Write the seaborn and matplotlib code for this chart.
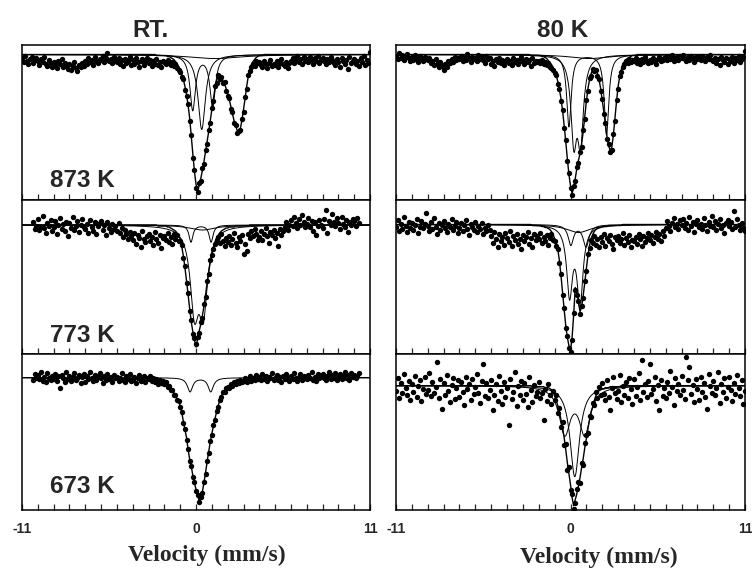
import numpy as np
import pandas as pd
import matplotlib
matplotlib.use("Agg")
import matplotlib.pyplot as plt
import seaborn as sns

sns.set_style("ticks", {"axes.edgecolor": "black"})
plt.rcParams["font.family"] = ["Liberation Sans", "DejaVu Sans"]

# === Velocity channels (mm/s) === #
vel_wide = np.round(np.arange(-11.0, 11.05, 0.1), 1)     # 221 channels
vel_narrow = np.round(np.arange(-10.3, 10.35, 0.1), 1)   # 207 channels
vel_fit = np.round(np.arange(-3.0, 5.05, 0.1), 1)        # 81 points of fitted envelope

# === Measured absorption, arb. units (0 = baseline, larger = deeper) === #
rt_873_abs = [3, 7, 1, 6, 9, 4, 2, 8, 5, 3,
              6, 10, 4, 7, 2, 9, 11, 5, 8, 12,
              7, 10, 13, 6, 9, 4, 12, 8, 11, 14,
              9, 15, 11, 7, 13, 16, 10, 12, 8, 11,
              6, 9, 3, 7, 5, 10, 2, 6, 8, 4,
              5, 1, 7, 3, -2, 6, 4, 8, 2, 5,
              7, 3, 9, 5, 11, 4, 8, 6, 2, 10,
              5, 9, 3, 7, 12, 6, 4, 10, 7, 3,
              8, 5, 11, 6, 9, 4, 10, 7, 12, 6,
              7, 9, 5, 8, 10, 7, 11, 9, 13, 15,
              17, 22, 24, 35, 41, 49, 66, 80, 103, 115,
              133, 137, 128, 126, 113, 109, 95, 89, 75, 68,
              53, 46, 31, 28, 20, 24, 22, 28, 27, 36,
              41, 43, 54, 57, 68, 70, 78, 76, 75, 64,
              57, 42, 34, 20, 16, 12, 9, 11, 6, 8,
              7, 10, 12, 6, 9, 13, 8, 5, 11, 9,
              10, 6, 12, 8, 4, 9, 11, 7, 13, 8,
              6, 3, 8, 5, 1, 7, 4, 9, 2, 6,
              4, 7, 2, 5, 9, 3, 6, 1, 8, 5,
              3, 6, 9, 4, 7, 2, 5, 8, 10, 4,
              7, 12, 3, 6, 9, 5, 14, 2, 8, 6,
              4, 9, 6, 11, 3, 7, 1, 10, 5, 8,
              -3]

lt_873_abs = [1, 4, -2, 3, 0, 5, 2, -1, 3, 6,
              2, 5, 0, 4, 7, 1, 3, 6, 2, 4,
              5, 3, 8, 6, 10, 4, 9, 12, 7, 11,
              15, 9, 12, 6, 8, 4, 7, 2, 5, 3,
              4, 1, 6, 2, 5, -1, 3, 7, 2, 4,
              3, 6, 0, 4, 2, 5, 8, 1, 4, 3,
              9, 6, 11, 4, 7, 3, 8, 5, 10, 6,
              4, 8, 6, 10, 3, 7, 5, 9, 6, 2,
              6, 9, 4, 7, 5, 11, 3, 8, 6, 7,
              6, 8, 5, 9, 7, 10, 8, 12, 13, 15,
              18, 20, 29, 34, 46, 55, 73, 85, 106, 118,
              133, 140, 131, 126, 112, 108, 97, 92, 75, 64,
              45, 36, 23, 21, 14, 16, 15, 21, 24, 36,
              44, 59, 68, 84, 89, 97, 95, 79, 66, 45,
              34, 21, 17, 12, 9, 6, 8, 4, 7, 5,
              6, 3, 8, 5, 9, 4, 7, 2, 6, 8,
              5, 7, 3, 6, 9, 4, 2, 6, 5, 3,
              2, 5, 1, 4, 0, 6, 3, 2, 5, 1,
              3, 0, 4, 6, 2, 5, 1, 3, 7, 2,
              4, 2, 5, 1, 3, 6, 2, 4, 0, 5,
              6, 3, 8, 4, 10, 2, 5, 7, 3, 9,
              4, 6, 2, 8, 3, 5, 1, 7, 4, 2,
              -4]

rt_773_abs = [-3, 4, 1,
              -6, 5, 2, -9, 3, 8, -2, 1, -5, 6,
              2, -4, 9, 0, -7, 4, -1, 6, -3, 11,
              -2, 3, -8, 5, 1, -4, 7, 0, -6, 2,
              4, -1, 8, -5, 2, 6, -3, 9, 1, -2,
              -4, 5, 0, 10, -3, 3, 7, -1, 4, 1,
              6, -2, 8, 3, 12, 5, 9, 14, 7, 11,
              15, 8, 19, 10, 13, 22, 6, 14, 17, 11,
              9, 16, 12, 20, 7, 14, 18, 10, 23, 13,
              11, 15, 8, 17, 12, 19, 9, 14, 10, 16,
              16, 20, 33, 41, 58, 68, 86, 95, 109, 113,
              119, 112, 108, 97, 93, 79, 72, 56, 49, 35,
              30, 24, 19, 15, 12, 18, 9, 16, 21, 13,
              17, 11, 20, 14, 8, 18, 22, 12, 16, 10,
              29, 19, 26, 9, 13, 6, 11, 4, 9, 15,
              12, 6, 15, 9, 3, 11, 18, 7, 10, 5,
              13, 8, 21, 4, 10, 6, 2, -3, 5, 0,
              -5, 1, -8, -2, 3, -6, 0, -10, -3, 2,
              -1, -7, 2, -4, 6, -3, 10, 1, -5, 0,
              3, -6, -15, 8, -4, 0, -11, -3, 1, -7,
              -2, 4, -8, -1, 2, -5, 7, -3, 0, -6,
              -4, 1, -7, -2]

lt_773_abs = [2, -5, 6, -1, 4, -8, 1, 7, -3, 3,
              -2, 5, 0, -6, 8, 2, -4, 3, -1, -12,
              1, 6, -3, 4, -7, 2, 9, -2, 5, 0,
              -4, 3, 7, -1, 2, -6, 5, 1, -3, 8,
              3, -2, 6, 0, -5, 4, 10, -1, 2, 5,
              -3, 7, 1, 4, -2, 9, 3, 6, 0, 5,
              11, 18, 7, 14, 22, 9, 16, 12, 20, 8,
              13, 17, 6, 21, 11, 15, 9, 19, 14, 24,
              10, 16, 12, 7, 19, 13, 22, 9, 15, 11,
              14, 8, 18, 12, 16, 10, 20, 13, 9, 15,
              16, 21, 24, 38, 49, 70, 83, 103, 111, 123,
              127, 115, 88, 65, 70, 76, 89, 81, 73, 56,
              46, 29, 23, 15, 18, 11, 20, 14, 22, 12,
              17, 9, 21, 13, 16, 10, 19, 24, 12, 15,
              11, 18, 14, 8, 20, 13, 17, 10, 22, 15,
              16, 12, 19, 9, 14, 21, 11, 17, 13, 8,
              15, 10, 18, 12, 7, 14, 9, 16, 6, 11,
              3, -4, 1, 6, -2, -7, 2, -1, 4, -5,
              0, -6, 3, -2, 5, -8, 1, -3, 7, -1,
              -5, 2, -1, 4, -7, 0, 6, -3, 1, -9,
              2, -4, 5, -1, -6, 3, 0, 8, -2, -5,
              1, -3, 4, -14, 2, -6, 0, 5, -2, 3,
              6]

rt_673_abs = [2, -4, 0,
              -3, 1, -6, 3, -1, 4, -5, 0, 2, -2,
              1, -4, 3, -2, 10, -3, 0, 4, -6, 1,
              -2, 3, -1, -5, 2, 0, -3, 5, -1, -4,
              4, -2, 1, -6, 0, 3, -3, 2, -1, -5,
              0, 5, -2, 2, -4, 1, -1, 4, -3, 0,
              -1, 3, 0, -5, 2, 4, -2, 1, -4, 3,
              2, -1, 5, 0, -3, 3, 1, -2, 4, 0,
              1, -2, 3, 0, 4, 1, 6, 2, 5, 3,
              6, 4, 9, 8, 12, 12, 17, 17, 22, 23,
              29, 34, 45, 51, 62, 71, 83, 88, 99, 104,
              113, 117, 124, 119, 115, 104, 96, 83, 75, 63,
              57, 47, 42, 33, 29, 22, 19, 14, 14, 10,
              9, 10, 6, 8, 4, 6, 3, 5, 2, 4,
              3, 0, 4, 1, -2, 3, 0, 2, -3, 1,
              -1, 2, -4, 1, -2, 3, -1, 0, -5, 2,
              0, -3, 2, -1, 4, -2, 1, -4, 0, 3,
              -2, 1, -5, 0, 3, -1, -4, 2, -2, 0,
              1, -3, 0, -6, 2, -1, 3, -4, 0, -2,
              -4, 0, 2, -2, -6, 1, -3, 0, -5, 2,
              -1, -4, 1, -2, -6, 0, -3, 2, -5, -1,
              -3, 0, -2, -5]

lt_673_abs = [5, -8, 12, -3, 7, -12, 2, 9, -5, 14,
              -2, 6, -10, 11, 0, -6, 15, 3, -9, 8,
              4, -13, 10, -4, 7, 1, -24, 12, -7, 23,
              -3, 9, -11, 5, 16, -1, -8, 13, 2, -6,
              11, -4, 6, 19, -9, 3, -2, 14, -7, 8,
              1, -12, 7, 17, -5, -22, 10, -3, 12, 4,
              -6, 24, 9, -2, 15, -10, 5, 18, -4, 11,
              2, 39, -7, 13, 6, -14, 20, 0, 9, -5,
              14, -3, 8, 21, -9, 4, 16, -1, 10, 6,
              -4, 12, 7, 34, 3, 15, -2, 9, 18, 5,
              14, 9, 27, 22, 41, 36, 59, 58, 84, 81,
              104, 108, 123, 117, 103, 96, 97, 77, 79, 57,
              49, 47, 30, 31, 17, 19, 6, 12, 1, 9,
              -3, 8, 14, -6, 11, 24, 2, -9, 7, 13,
              5, -11, 16, 0, 9, -4, 12, -8, 3, 18,
              -7, 10, 1, -13, 14, -26, 6, -2, 11, -5,
              -22, 8, 3, -9, 15, -1, 24, -6, 10, 2,
              12, -4, 7, -15, 1, 19, -8, 5, -2, 9,
              -10, 4, 13, -29, -6, -19, 8, -1, 16, -7,
              3, 14, -9, 6, -3, 11, 23, -12, 0, 7,
              -5, 9, 2, -14, 17, -2, 6, -8, 12, 1,
              -9, 4, 15, -3, 8, -11, 2, 10, -6, 18,
              5]

# === Fitted envelope on vel_fit (-3 ... 5 mm/s) === #
rt_873_fit = [0, 0, 0, 0, 0, 1, 1, 1, 1, 1,
              1, 1, 2, 2, 3, 4, 5, 7, 9, 12,
              16, 20, 25, 32, 40, 51, 64, 82, 100, 117,
              130, 136, 131, 124, 116, 107, 97, 87, 77, 66,
              55, 44, 33, 26, 22, 22, 24, 26, 29, 34,
              39, 45, 52, 59, 66, 71, 76, 78, 74, 66,
              55, 44, 32, 22, 15, 10, 7, 5, 3, 2,
              1, 1, 1, 0, 0, 0, 0, 0, 0, 0,
              0]
lt_873_fit = [0, 0, 0, 0, 0, 1, 1, 1, 1, 1,
              1, 1, 2, 2, 3, 4, 6, 8, 10, 13,
              17, 21, 27, 35, 44, 56, 71, 87, 104, 120,
              131, 139, 133, 124, 114, 106, 99, 90, 77, 62,
              47, 34, 25, 19, 15, 14, 16, 19, 25, 34,
              46, 57, 70, 82, 91, 96, 93, 81, 64, 47,
              32, 22, 15, 10, 7, 5, 4, 3, 2, 1,
              1, 1, 0, 0, 0, 0, 0, 0, 0, 0,
              0]
rt_773_fit = [0, 0, 0, 0, 0, 0, 1, 1, 1, 1,
              1, 1, 2, 2, 3, 4, 5, 6, 8, 11,
              14, 22, 31, 43, 56, 70, 84, 97, 107, 115,
              122, 114, 106, 99, 91, 81, 70, 58, 47, 37,
              29, 22, 17, 13, 10, 8, 6, 5, 4, 3,
              3, 2, 2, 2, 2, 1, 1, 1, 1, 1,
              1, 1, 1, 1, 0, 0, 0, 0, 0, 0,
              0, 0, 0, 0, 0, 0, 0, 0, 0, 0,
              0]
lt_773_fit = [0, 0, 0, 0, 0, 0, 1, 1, 1, 1,
              1, 1, 2, 2, 3, 3, 4, 5, 7, 10,
              14, 19, 25, 36, 51, 68, 85, 101, 113, 121,
              126, 113, 90, 63, 67, 78, 87, 83, 71, 58,
              44, 31, 21, 14, 10, 7, 5, 4, 3, 3,
              2, 2, 2, 2, 1, 1, 1, 1, 1, 1,
              1, 1, 1, 0, 0, 0, 0, 0, 0, 0,
              0, 0, 0, 0, 0, 0, 0, 0, 0, 0,
              0]
rt_673_fit = [1, 1, 1, 2, 2, 2, 3, 3, 4, 4,
              5, 6, 7, 9, 11, 13, 15, 18, 21, 24,
              28, 35, 44, 52, 60, 72, 82, 89, 98, 105,
              112, 118, 123, 120, 114, 105, 95, 84, 74, 64,
              56, 48, 41, 34, 28, 23, 18, 15, 13, 11,
              10, 9, 8, 7, 6, 5, 5, 4, 4, 3,
              3, 3, 2, 2, 2, 2, 2, 1, 1, 1,
              1, 1, 1, 1, 0, 0, 0, 0, 0, 0,
              0]
lt_673_fit = [0, 0, 0, 0, 0, 0, 1, 1, 1, 1,
              1, 1, 1, 1, 2, 2, 2, 3, 4, 6,
              10, 15, 20, 26, 34, 42, 52, 64, 77, 88,
              99, 112, 120, 114, 108, 100, 92, 82, 73, 62,
              53, 43, 34, 26, 21, 15, 10, 7, 5, 4,
              3, 3, 2, 2, 2, 1, 1, 1, 1, 1,
              1, 1, 0, 0, 0, 0, 0, 0, 0, 0,
              0, 0, 0, 0, 0, 0, 0, 0, 0, 0,
              0]

# === Sub-spectra: line centres (mm/s), half widths (mm/s), depths === #
rt_873_centres = [[-0.21, 1.05], [0.36], [1.2]]
rt_873_widths = [[0.21, 0.21], [0.28], [2.0]]
rt_873_depths = [[55, 52], [75], [4]]

lt_873_centres = [[-0.10, 2.27], [0.21, 0.63], [1.2]]
lt_873_widths = [[0.17, 0.17], [0.22, 0.22], [1.5]]
lt_873_depths = [[72, 80], [80, 80], [4]]

rt_773_centres = [[-0.32, 0.95], [-0.10, 0.46], [0.4]]
rt_773_widths = [[0.15, 0.15], [0.32, 0.32], [1.0]]
rt_773_depths = [[17, 17], [79, 79], [5]]

lt_773_centres = [[-0.06, 0.60], [0.02, 0.98], [0.5]]
lt_773_widths = [[0.22, 0.22], [0.20, 0.22], [0.9]]
lt_773_depths = [[68, 77], [20, 22], [8]]

rt_673_centres = [[-0.38, 0.93]]
rt_673_widths = [[0.20, 0.20]]
rt_673_depths = [[14, 14]]

lt_673_centres = [[-0.36, 0.90], [0.27]]
lt_673_widths = [[0.42, 0.42], [0.36]]
lt_673_depths = [[46, 46], [91]]

panel_labels = ["873 K", "773 K", "673 K"]
column_titles = ["RT.", "80 K"]
tick_values = list(range(-11, 12))
tick_text = {-11: "-11", 0: "0", 11: "11"}


def subspectrum(v, centres, widths, depths):
    out = np.zeros_like(v)
    for c, w, d in zip(centres, widths, depths):
        out += d / (1.0 + ((v - c) / w) ** 2)
    return out


# === Layout (figure fractions) === #
col_x = [(0.0293, 0.4628), (0.5266, 0.4641)]
row_y = [(0.6491, 0.2719), (0.3789, 0.2702), (0.1053, 0.2737)]

panels = [
    dict(row=0, col=0, vel=vel_wide, absorb=rt_873_abs, fit=rt_873_fit,
         comps=(rt_873_centres, rt_873_widths, rt_873_depths), ylim=(-145.5, 9.5)),
    dict(row=0, col=1, vel=vel_wide, absorb=lt_873_abs, fit=lt_873_fit,
         comps=(lt_873_centres, lt_873_widths, lt_873_depths), ylim=(-145.5, 9.5)),
    dict(row=1, col=0, vel=vel_narrow, absorb=rt_773_abs, fit=rt_773_fit,
         comps=(rt_773_centres, rt_773_widths, rt_773_depths), ylim=(-129, 25)),
    dict(row=1, col=1, vel=vel_wide, absorb=lt_773_abs, fit=lt_773_fit,
         comps=(lt_773_centres, lt_773_widths, lt_773_depths), ylim=(-129.5, 24.5)),
    dict(row=2, col=0, vel=vel_narrow, absorb=rt_673_abs, fit=rt_673_fit,
         comps=(rt_673_centres, rt_673_widths, rt_673_depths), ylim=(-132.3, 23.7)),
    dict(row=2, col=1, vel=vel_wide, absorb=lt_673_abs, fit=lt_673_fit,
         comps=(lt_673_centres, lt_673_widths, lt_673_depths), ylim=(-124.3, 31.7)),
]

fig = plt.figure(figsize=(7.52, 5.70), dpi=100)
v_line = np.linspace(-11, 11, 2201)

for p in panels:
    x0, w = col_x[p["col"]]
    y0, h = row_y[p["row"]]
    ax = fig.add_axes([x0, y0, w, h])

    # component sub-spectra
    for c, wd, d in zip(*p["comps"]):
        sns.lineplot(x=v_line, y=-subspectrum(v_line, c, wd, d), ax=ax,
                     color="black", linewidth=0.7, estimator=None, sort=False)

    # fitted envelope
    fit_df = pd.DataFrame({
        "v": np.concatenate([[-11.0], vel_fit, [11.0]]),
        "y": -np.concatenate([[0.0], np.array(p["fit"], float), [0.0]]),
    })
    sns.lineplot(data=fit_df, x="v", y="y", ax=ax, color="black",
                 linewidth=1.0, estimator=None, sort=False)

    # measured points
    sns.scatterplot(x=p["vel"], y=-np.array(p["absorb"], float), ax=ax,
                    color="black", s=15, linewidth=0, zorder=3)

    ax.set_xlim(-11, 11)
    ax.set_ylim(*p["ylim"])
    ax.set_xlabel("")
    ax.set_ylabel("")
    ax.set_yticks([])
    ax.set_xticks(tick_values)
    bottom = p["row"] == 2
    ax.set_xticklabels([tick_text.get(t, "") for t in tick_values],
                       fontweight="bold", fontsize=10)
    ax.tick_params(axis="x", direction="in", length=4, width=0.9,
                   bottom=True, top=False, labelbottom=bottom, pad=9)
    for s in ax.spines.values():
        s.set_linewidth(1.1)
        s.set_color("black")

    if p["col"] == 0:
        ax.text(0.08, {0: 0.084, 1: 0.078, 2: 0.109}[p["row"]], panel_labels[p["row"]],
                transform=ax.transAxes, ha="left", va="baseline",
                fontsize=17.5, fontweight="bold")

fig.text(0.1995, 0.935, column_titles[0], ha="center", va="baseline",
         fontsize=17.5, fontweight="bold")
fig.text(0.7487, 0.935, column_titles[1], ha="center", va="baseline",
         fontsize=17.5, fontweight="bold")

for xc, yc in [(0.2753, 0.0263), (0.7965, 0.0228)]:
    fig.text(xc, yc, "Velocity (mm/s)", ha="center", va="center",
             fontsize=17, fontweight="bold", family=["Liberation Serif", "DejaVu Serif"])

fig.savefig("out.png", dpi=100)
